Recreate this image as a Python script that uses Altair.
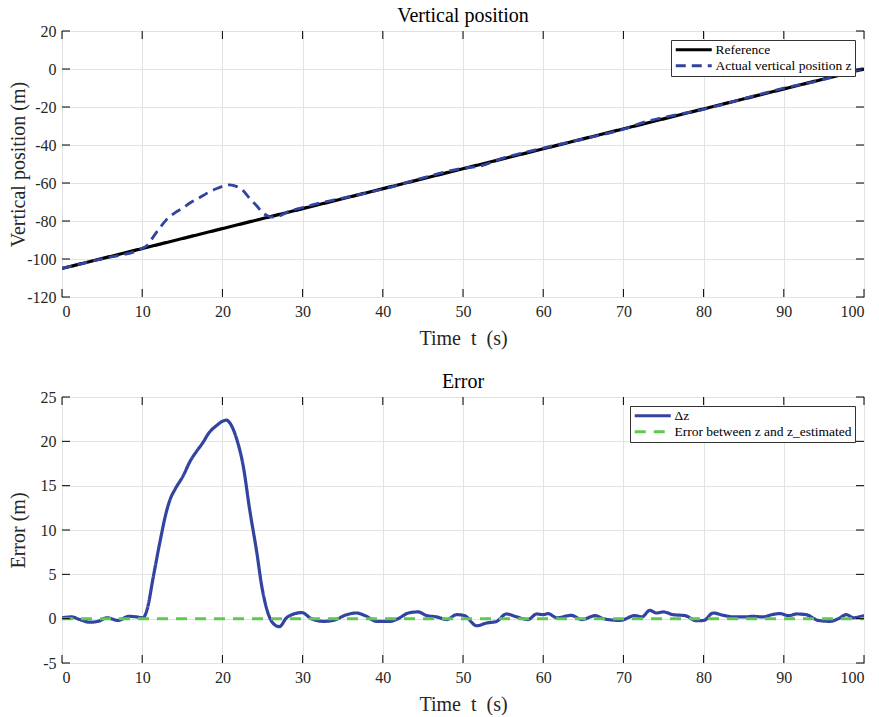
import altair as alt
import pandas as pd

# ---------------- data ----------------
t_ref = [0, 100]
z_ref = [-105, 0]

t_act = [0, 5, 10, 10.6, 11.4, 12.2, 13.0, 14.1, 15.1, 16.0, 16.8, 17.6, 18.2, 19.3, 20.1,
         20.5, 20.9, 21.8, 22.6, 23.4, 24.3, 24.9, 25.7, 26.3, 27.1, 28.0, 30, 35, 40, 45,
         50, 52, 55, 60, 65, 70, 73.3, 75, 80, 85, 90, 95, 100]
z_act = [-104.9, -99.9, -94.4, -92.9, -88.2, -83.6, -79.4, -75.6, -73.1, -70.4, -68.5, -66.6,
         -65.1, -62.9, -61.6, -61.1, -61.0, -61.9, -64.1, -68.1, -72.1, -75.2, -77.4, -77.9,
         -77.4, -75.5, -72.9, -67.9, -63.3, -57.3, -52.2, -51.2, -46.9, -41.6, -36.8, -31.7,
         -27.1, -25.5, -21.2, -15.6, -10.1, -5.5, 0.4]

t_dz = [0, 1.2, 2.2, 3.5, 4.5, 5.6, 7.0, 8.3, 9.3, 10.1, 10.6, 11.4, 12.2, 13.0, 13.5, 14.1,
        15.1, 16.0, 16.8, 17.6, 18.2, 19.3, 20.1, 20.5, 20.9, 21.8, 22.6, 23.4, 24.3, 24.9,
        25.7, 26.3, 27.1, 28.0, 28.8, 29.9, 31.1, 32.6, 33.8, 35.5, 36.7, 37.8, 39.2, 40.9,
        41.9, 43.2, 44.4, 45.5, 46.7, 48.0, 49.2, 50.2, 51.7, 52.9, 54.2, 55.4, 56.7, 58.1,
        59.2, 60.0, 60.6, 61.7, 63.5, 64.8, 66.5, 67.5, 69.6, 71.4, 72.3, 73.3, 74.1, 75.0,
        76.2, 77.7, 79.1, 80.0, 81.2, 82.5, 83.7, 85.2, 86.1, 87.4, 88.5, 89.5, 90.6, 91.6,
        92.8, 94.3, 95.8, 96.8, 97.8, 98.7, 100]
dz = [0.1, 0.2, -0.1, -0.4, -0.3, 0.1, -0.2, 0.26, 0.2, 0.1, 1.0, 4.8, 8.6, 12.0, 13.5, 14.6,
      16.1, 17.8, 18.9, 19.9, 20.8, 21.8, 22.3, 22.4, 22.1, 20.2, 17.2, 12.3, 7.4, 3.7,
      0.6, -0.5, -0.9, 0.1, 0.5, 0.68, 0.0, -0.3, -0.2, 0.45, 0.64, 0.34, -0.3, -0.3,
      0.0, 0.64, 0.76, 0.34, 0.2, -0.1, 0.45, 0.34, -0.8, -0.5, -0.3, 0.53, 0.2, -0.1,
      0.53, 0.45, 0.57, 0.1, 0.37, -0.1, 0.34, 0.0, -0.2, 0.34, 0.2, 0.94, 0.64, 0.76,
      0.45, 0.34, -0.23, -0.2, 0.64, 0.37, 0.2, 0.2, 0.26, 0.2, 0.45, 0.57, 0.34, 0.53,
      0.45, -0.2, -0.3, 0.0, 0.45, 0.1, 0.37]

t_est = [0, 100]
e_est = [0.0, 0.0]

x_ticks = [0, 10, 20, 30, 40, 50, 60, 70, 80, 90, 100]
y_ticks_top = [-120, -100, -80, -60, -40, -20, 0, 20]
y_ticks_bot = [-5, 0, 5, 10, 15, 20, 25]

top_names = ["Reference", "Actual vertical position z"]
bot_names = ["Δz", "Error between z and z_estimated"]

BLUE = "#3243a0"
GREEN = "#5ec94f"
FONT = "'Liberation Serif', 'Times New Roman', 'DejaVu Serif', serif"
W, H = 802, 266
TL = 8  # inner tick length
MINUS = "replace(datum.label, '\u2212', '-')"


def panel(title, ytitle, yticks, ydom, layers_data, names, colors, dashes, widths):
    xs = alt.Scale(domain=[0, 100], nice=False, zero=False)
    ys = alt.Scale(domain=ydom, nice=False, zero=False)
    x_axis = alt.Axis(values=x_ticks, title="Time\u2002t\u2002(s)", titleY=41,
                      titleBaseline="middle")
    y_axis = alt.Axis(values=yticks, title=ytitle, titleX=-44, titleBaseline="middle",
                      labelExpr=MINUS)
    cscale = alt.Scale(domain=names, range=colors)
    dscale = alt.Scale(domain=names, range=dashes)
    layers = []
    for (tt, vv, nm), w in zip(layers_data, widths):
        df = pd.DataFrame({"t": tt, "v": vv, "s": [nm] * len(tt)})
        layers.append(
            alt.Chart(df).mark_line(strokeWidth=w, interpolate="monotone", clip=True).encode(
                x=alt.X("t:Q", scale=xs, axis=x_axis),
                y=alt.Y("v:Q", scale=ys, axis=y_axis),
                color=alt.Color("s:N", scale=cscale, legend=alt.Legend(title=None)),
                strokeDash=alt.StrokeDash("s:N", scale=dscale, legend=alt.Legend(title=None)),
            )
        )
    xt = pd.DataFrame({"t": x_ticks})
    yt = pd.DataFrame({"v": yticks})
    for y0, y1 in [(0, TL), (H, H - TL)]:
        layers.append(
            alt.Chart(xt).mark_rule(color="black", strokeWidth=1).encode(
                x=alt.X("t:Q", scale=xs, axis=x_axis), y=alt.value(y0), y2=alt.value(y1)
            )
        )
    for x0, x1 in [(0, TL), (W, W - TL)]:
        layers.append(
            alt.Chart(yt).mark_rule(color="black", strokeWidth=1).encode(
                y=alt.Y("v:Q", scale=ys, axis=y_axis), x=alt.value(x0), x2=alt.value(x1)
            )
        )
    return alt.layer(*layers).properties(
        width=W, height=H,
        title=alt.TitleParams(title, frame="group", anchor="middle", offset=-3),
    )


top = panel(
    "Vertical position", "Vertical position (m)", y_ticks_top, [-120, 20],
    [(t_ref, z_ref, top_names[0]), (t_act, z_act, top_names[1])],
    top_names, ["#000000", BLUE], [[1, 0], [10, 6]], [3.2, 2.8],
)
bot = panel(
    "Error", "Error (m)", y_ticks_bot, [-5, 25],
    [(t_dz, dz, bot_names[0]), (t_est, e_est, bot_names[1])],
    bot_names, [BLUE, GREEN], [[1, 0], [11, 8]], [3.2, 3.0],
)

chart = alt.vconcat(top, bot, spacing=22).resolve_scale(
    color="independent", strokeDash="independent"
).resolve_legend(color="independent", strokeDash="independent").configure(
    font=FONT, padding={"left": 7, "top": 5, "right": 3, "bottom": 0}
).configure_view(
    stroke="black", strokeWidth=1
).configure_axis(
    domain=False, ticks=False, grid=True, gridColor="#e3e3e3", gridWidth=1,
    labelFont=FONT, labelFontSize=16, labelColor="#262626", labelPadding=6,
    titleFont=FONT, titleFontSize=20, titleFontWeight="normal", titleColor="#262626",
).configure_title(
    font=FONT, fontSize=20, fontWeight="normal", color="#000000"
).configure_legend(
    orient="top-right", offset=9, fillColor="white", strokeColor="#333333",
    padding=3, cornerRadius=0, labelFont=FONT, labelFontSize=13.5, labelColor="#000000",
    symbolType="M-1,0H6.2", symbolSize=100, symbolStrokeWidth=3, rowPadding=1,
    labelOffset=28, labelLimit=400,
)

chart.save("out.html", embed_options={"renderer": "svg", "actions": False})
